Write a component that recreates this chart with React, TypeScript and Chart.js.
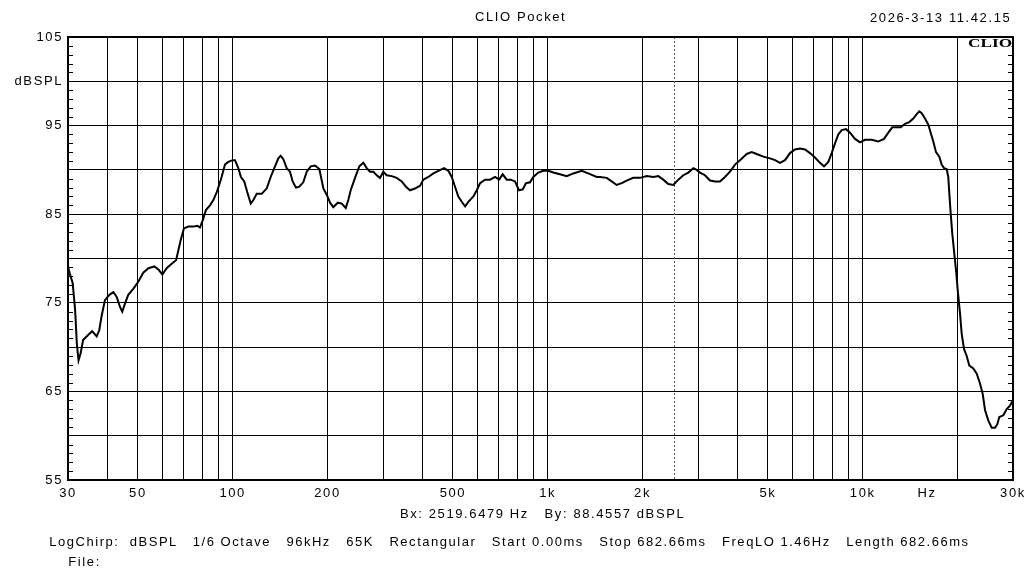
import React, { useEffect, useRef } from 'react';
import { Chart, registerables } from 'chart.js';

Chart.register(...registerables);

// ---- data (frequency in Hz, level in dB SPL) ----
const freqHz = [
  30, 30.4, 31.05, 31.6, 32.0, 32.4, 32.9, 33.5, 34.8, 35.8, 37.0, 37.7, 38.4, 39.3, 40.6, 41.8, 42.8, 43.9, 44.6, 45.5,
  46.6, 48.4, 50.2, 52.0, 54.0, 56.4, 58.3, 59.8, 61.7, 64.0, 66.1, 67.2, 68.4, 70.0, 72.3, 75.0, 77.2, 78.7, 80.3, 82.3,
  84.7, 86.8, 89.0, 90.6, 92.2, 94.5, 96.8, 100, 101.7, 104.2, 106.2, 108.8, 111.2, 114.1, 116.3, 119.2, 123.6, 128.2, 132.0, 135.5,
  139.6, 142.0, 144.8, 148.4, 152.0, 155.0, 158.8, 162.7, 167.5, 171.8, 176.9, 182.5, 188.4, 194.0, 198.8, 203.7, 208.6, 215.5, 221.9, 228.5,
  232.8, 236.9, 244.5, 252.3, 259.8, 266.4, 272.8, 279.5, 286.5, 293.5, 300.7, 308.1, 319.7, 331.6, 344.0, 354.8, 365.5, 379.1, 393.3, 402.9,
  417.9, 433.5, 449.8, 468.7, 483.7, 495.9, 507.9, 520.3, 533.5, 546.6, 559.9, 580.8, 595.4, 609.9, 632.5, 656.2, 680.8, 700.9, 719.7, 741.1,
  763.3, 787.3, 810.7, 833.0, 853.3, 878.8, 900, 933.6, 968.5, 1004, 1042, 1094, 1149, 1206, 1282, 1345, 1431, 1466, 1540, 1596,
  1656, 1718, 1781, 1869, 1963, 2062, 2164, 2245, 2328, 2415, 2505, 2598, 2695, 2795, 2899, 2972, 3044, 3157, 3275, 3397,
  3523, 3654, 3791, 3932, 4078, 4284, 4443, 4608, 4837, 5079, 5268, 5464, 5667, 5878, 6096, 6323, 6558, 6802, 7055, 7318,
  7536, 7777, 7971, 8166, 8365, 8577, 8850, 9114, 9453, 9804, 10170, 10678, 11206, 11685, 12058, 12413, 12822, 13203, 13623, 14058,
  14475, 14840, 15125, 15393, 15767, 16152, 16437, 16754, 17089, 17503, 17815, 18117, 18475, 18692, 18831, 19024, 19248, 19489, 19775, 20069,
  20365, 20619, 20969, 21388, 21800, 22447, 23013, 23572, 24042, 24451, 25049, 25681, 26307, 26754, 27147, 27952, 28651, 29351, 30000,
];

const splDb = [
  79.1, 78.3, 77.2, 74.2, 70.4, 68.5, 69.3, 70.8, 71.4, 71.8, 71.2, 71.9, 73.6, 75.3, 75.9, 76.2, 75.7, 74.5, 74.0, 74.9,
  75.9, 76.6, 77.4, 78.4, 78.9, 79.1, 78.7, 78.2, 78.9, 79.4, 79.8, 80.9, 82.1, 83.4, 83.6, 83.6, 83.7, 83.5, 84.3, 85.5,
  86.0, 86.6, 87.5, 88.3, 89.2, 90.6, 90.9, 91.1, 91.1, 90.2, 89.2, 88.7, 87.5, 86.2, 86.6, 87.3, 87.3, 87.9, 89.2, 90.2,
  91.3, 91.6, 91.2, 90.2, 89.8, 88.7, 88.0, 88.1, 88.6, 89.8, 90.4, 90.5, 90.1, 87.9, 87.2, 86.3, 85.8, 86.3, 86.2, 85.7,
  86.6, 87.7, 89.1, 90.4, 90.8, 90.2, 89.8, 89.8, 89.4, 89.1, 89.8, 89.4, 89.3, 89.1, 88.7, 88.1, 87.7, 87.9, 88.2, 88.9,
  89.2, 89.6, 89.9, 90.2, 89.9, 89.2, 88.1, 87.0, 86.4, 85.9, 86.4, 87.0, 87.7, 88.5, 88.9, 88.9, 89.2, 88.9, 89.5, 88.9,
  88.9, 88.7, 87.7, 87.8, 88.5, 88.6, 89.2, 89.7, 89.9, 89.9, 89.7, 89.5, 89.3, 89.6, 89.9, 89.6, 89.2, 89.2, 89.1, 88.7,
  88.3, 88.5, 88.8, 89.1, 89.1, 89.3, 89.2, 89.3, 88.9, 88.4, 88.3, 88.9, 89.4, 89.7, 90.2, 90.0, 89.7, 89.4, 88.8, 88.7,
  88.7, 89.2, 89.8, 90.6, 91.1, 91.8, 92.0, 91.8, 91.5, 91.3, 91.1, 90.8, 91.1, 91.9, 92.3, 92.4, 92.3, 91.9, 91.4, 90.8,
  90.4, 90.9, 91.9, 93.0, 94.0, 94.5, 94.6, 94.2, 93.5, 93.1, 93.4, 93.4, 93.2, 93.5, 94.2, 94.8, 94.8, 94.8, 95.2, 95.4,
  95.8, 96.3, 96.6, 96.4, 95.8, 95.1, 94.2, 93.2, 92.0, 91.5, 90.6, 90.2, 90.1, 89.2, 87.4, 85.1, 82.8, 80.9, 78.7, 76.1,
  73.8, 71.5, 69.8, 69.0, 67.9, 67.6, 67.0, 65.9, 64.7, 62.9, 61.7, 60.9, 60.9, 61.3, 62.1, 62.3, 63.0, 63.4, 64.0,
];

const xTickValues = [
  30, 40, 50, 60, 70, 80, 90, 100, 200, 300, 400, 500, 600, 700, 800, 900,
  1000, 2000, 3000, 4000, 5000, 6000, 7000, 8000, 9000, 10000, 16000, 20000, 30000,
];
const xTickLabels: Record<number, string> = {
  30: '30', 50: '50', 100: '100', 200: '200', 500: '500', 1000: '1k', 2000: '2k',
  5000: '5k', 10000: '10k', 16000: 'Hz', 30000: '30k',
};
const unitTickHz = 16000; // position of the "Hz" unit label (no grid line)

const yMin = 55;
const yMax = 105;
const yStep = 5;
const yUnitValue = 100;
const yUnitLabel = 'dBSPL';

const cursorHz = 2519.6479;
const cursorDb = 88.4557;

const titleText = 'CLIO Pocket';
const dateText = '2026-3-13 11.42.15';
const logoText = 'CLIO';
const cursorText = `Bx: ${cursorHz.toFixed(4)} Hz   By: ${cursorDb.toFixed(4)} dBSPL`;
const infoText =
  'LogChirp:  dBSPL   1/6 Octave   96kHz   65K   Rectangular   Start 0.00ms   Stop 682.66ms   FreqLO 1.46Hz   Length 682.66ms';
const fileText = 'File:';

const SANS = "'Liberation Sans', Arial, sans-serif";
const SERIF = "'Liberation Serif', 'Times New Roman', serif";

const textStyle: React.CSSProperties = {
  position: 'absolute',
  fontFamily: SANS,
  fontSize: 13,
  lineHeight: '13px',
  letterSpacing: '1.6px',
  whiteSpace: 'pre',
  color: '#000',
  margin: 0,
};

export default function App() {
  const canvasRef = useRef<HTMLCanvasElement>(null);

  useEffect(() => {
    const canvas = canvasRef.current;
    if (!canvas) return;

    const framePlugin = {
      id: 'clioFrame',
      beforeDraw(chart: any) {
        chart.ctx.letterSpacing = '1.6px';
      },
      beforeDatasetsDraw(chart: any) {
        const { ctx, chartArea: a, scales } = chart;
        const cx = Math.round(scales.x.getPixelForValue(cursorHz)) + 0.5;
        ctx.save();
        ctx.strokeStyle = '#555';
        ctx.lineWidth = 1;
        ctx.setLineDash([2, 2]);
        ctx.beginPath();
        ctx.moveTo(cx, a.top);
        ctx.lineTo(cx, a.bottom);
        ctx.stroke();
        ctx.restore();
      },
      afterDatasetsDraw(chart: any) {
        const { ctx, chartArea: a, scales } = chart;
        const y = scales.y;
        ctx.save();
        ctx.strokeStyle = '#000';
        ctx.lineWidth = 1;
        ctx.beginPath();
        for (let v = yMin + 1; v < yMax; v++) {
          if (v % yStep === 0) continue;
          const py = Math.round(y.getPixelForValue(v)) + 0.5;
          ctx.moveTo(a.left, py);
          ctx.lineTo(a.left + 5, py);
          ctx.moveTo(a.right - 5, py);
          ctx.lineTo(a.right, py);
        }
        ctx.stroke();
        ctx.lineWidth = 2;
        ctx.strokeRect(a.left, a.top, a.right - a.left, a.bottom - a.top);
        ctx.restore();
      },
    };

    const chart = new Chart(canvas, {
      type: 'line',
      data: {
        datasets: [
          {
            data: freqHz.map((f, i) => ({ x: f, y: splDb[i] })),
            borderColor: '#000',
            borderWidth: 2,
            pointRadius: 0,
            tension: 0,
            fill: false,
          },
        ],
      },
      options: {
        animation: false,
        responsive: false,
        events: [],
        layout: { padding: { left: 0, top: 37, right: 17, bottom: 0 } },
        plugins: {
          legend: { display: false },
          tooltip: { enabled: false },
          title: { display: false },
        },
        scales: {
          x: {
            type: 'logarithmic',
            min: 30,
            max: 30000,
            afterBuildTicks: (scale: any) => {
              scale.ticks = xTickValues.map((v) => ({ value: v }));
            },
            afterFit: (scale: any) => {
              scale.height = 88;
            },
            grid: {
              color: (ctx: any) =>
                ctx.tick && ctx.tick.value === unitTickHz ? 'rgba(0,0,0,0)' : '#000',
              lineWidth: 1,
              drawTicks: false,
            },
            border: { display: false },
            ticks: {
              autoSkip: false,
              maxRotation: 0,
              minRotation: 0,
              padding: 6,
              color: '#000',
              font: { family: SANS, size: 13 },
              callback: (value: any) => xTickLabels[Number(value)] ?? '',
            },
          },
          y: {
            type: 'linear',
            min: yMin,
            max: yMax,
            afterFit: (scale: any) => {
              scale.width = 68;
            },
            grid: { color: '#000', lineWidth: 1, drawTicks: false },
            border: { display: false },
            ticks: {
              stepSize: yStep,
              padding: 5,
              color: '#000',
              font: { family: SANS, size: 13 },
              callback: (value: any) => {
                const v = Number(value);
                if (v === yUnitValue) return yUnitLabel;
                return v % 10 === 5 ? String(v) : '';
              },
            },
          },
        },
      },
      plugins: [framePlugin],
    } as any);

    return () => chart.destroy();
  }, []);

  return (
    <div
      style={{
        position: 'absolute',
        left: 0,
        top: 0,
        width: 1030,
        height: 568,
        background: '#fff',
        overflow: 'hidden',
      }}
    >
      <canvas ref={canvasRef} width={1030} height={568} style={{ position: 'absolute', left: 0, top: 0 }} />
      <div style={{ ...textStyle, left: 475, top: 10 }}>{titleText}</div>
      <div style={{ ...textStyle, left: 870, top: 10.5 }}>{dateText}</div>
      <div
        style={{
          position: 'absolute',
          left: 968,
          top: 38,
          fontFamily: SERIF,
          fontWeight: 'bold',
          fontSize: 11.5,
          lineHeight: '11px',
          whiteSpace: 'pre',
          color: '#000',
          background: '#fff',
          transform: 'scaleX(1.5)',
          transformOrigin: 'left top',
        }}
      >
        {logoText}
      </div>
      <div style={{ ...textStyle, left: 400, top: 506.5 }}>{cursorText}</div>
      <div style={{ ...textStyle, left: 49.3, top: 535, letterSpacing: '1.53px' }}>{infoText}</div>
      <div style={{ ...textStyle, left: 68.3, top: 554.5 }}>{fileText}</div>
    </div>
  );
}
